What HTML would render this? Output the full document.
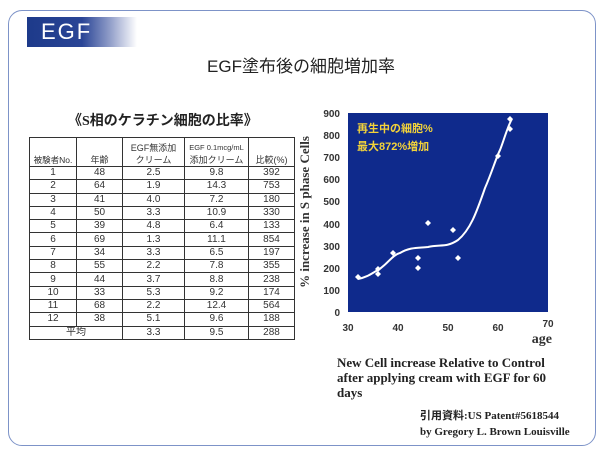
<!DOCTYPE html>
<html><head><meta charset="utf-8"><style>
body{margin:0;width:602px;height:455px;background:#fff;position:relative;overflow:hidden;font-family:"Liberation Sans","Noto Sans CJK JP",sans-serif}
.frame{position:absolute;left:8px;top:10px;width:586px;height:434px;border:1px solid #7d93c8;border-radius:14px}
.banner{position:absolute;left:27px;top:17px;width:110px;height:30px;background:linear-gradient(90deg,#1d3a8a 0%,#2a4596 50%,#8f9cc8 75%,#fff 100%)}
.banner span{position:absolute;left:14px;top:2px;color:#fff;font-size:22px;letter-spacing:2px}
.title{position:absolute;left:0;width:602px;top:52px;text-align:center;font-size:17px;color:#222}
.sub{position:absolute;left:68px;top:110px;font-size:14px;font-weight:bold;color:#222;font-family:"Liberation Serif","Noto Sans CJK JP",serif}
table{position:absolute;left:29px;top:137px;border-collapse:collapse;font-size:10px;color:#333;table-layout:fixed;width:265px}
td{border:1px solid #333;text-align:center;height:12.3px;padding:0;line-height:12px;white-space:nowrap;overflow:hidden}
tr.h td{height:28px;vertical-align:bottom;font-size:9px;line-height:12px}
.cap{position:absolute;left:337px;top:355px;font:bold 13px "Liberation Serif",serif;line-height:15px;color:#222}
.ref{position:absolute;left:420px;top:408px;font:bold 11px "Liberation Serif","Noto Sans CJK JP",serif;line-height:16px;color:#222}
</style></head><body>
<div class="frame"></div>
<div class="banner"><span>EGF</span></div>
<div class="title">EGF塗布後の細胞増加率</div>
<div class="sub">《S相のケラチン細胞の比率》</div>
<table>
<colgroup><col style="width:47px"><col style="width:46px"><col style="width:62px"><col style="width:64px"><col style="width:46px"></colgroup>
<tr class="h"><td style="font-size:8.5px">被験者No.</td><td>年齢</td><td>EGF無添加<br>クリーム</td><td><span style="font-size:7.5px">EGF 0.1mcg/mL</span><br>添加クリーム</td><td>比較(%)</td></tr>
<tr><td>1</td><td>48</td><td>2.5</td><td>9.8</td><td>392</td></tr>
<tr><td>2</td><td>64</td><td>1.9</td><td>14.3</td><td>753</td></tr>
<tr><td>3</td><td>41</td><td>4.0</td><td>7.2</td><td>180</td></tr>
<tr><td>4</td><td>50</td><td>3.3</td><td>10.9</td><td>330</td></tr>
<tr><td>5</td><td>39</td><td>4.8</td><td>6.4</td><td>133</td></tr>
<tr><td>6</td><td>69</td><td>1.3</td><td>11.1</td><td>854</td></tr>
<tr><td>7</td><td>34</td><td>3.3</td><td>6.5</td><td>197</td></tr>
<tr><td>8</td><td>55</td><td>2.2</td><td>7.8</td><td>355</td></tr>
<tr><td>9</td><td>44</td><td>3.7</td><td>8.8</td><td>238</td></tr>
<tr><td>10</td><td>33</td><td>5.3</td><td>9.2</td><td>174</td></tr>
<tr><td>11</td><td>68</td><td>2.2</td><td>12.4</td><td>564</td></tr>
<tr><td>12</td><td>38</td><td>5.1</td><td>9.6</td><td>188</td></tr>
<tr><td colspan="2">平均</td><td>3.3</td><td>9.5</td><td>288</td></tr>
</table>
<svg style="position:absolute;left:0;top:0" width="602" height="455">
<rect x="348" y="113" width="200" height="199" fill="#0f2a8c"/>
<g font-family="Liberation Sans,sans-serif" font-weight="bold" font-size="10" fill="#333" text-anchor="end">
<text x="340" y="316">0</text><text x="340" y="294">100</text><text x="340" y="272">200</text><text x="340" y="250">300</text><text x="340" y="228">400</text><text x="340" y="205">500</text><text x="340" y="183">600</text><text x="340" y="161">700</text><text x="340" y="139">800</text><text x="340" y="117">900</text>
</g>
<g font-family="Liberation Sans,sans-serif" font-weight="bold" font-size="10" fill="#333" text-anchor="middle">
<text x="348" y="331">30</text><text x="398" y="331">40</text><text x="448" y="331">50</text><text x="498" y="331">60</text><text x="548" y="327">70</text>
</g>
<text x="552" y="343" font-family="Liberation Serif,serif" font-weight="bold" font-size="14" fill="#333" text-anchor="end">age</text>
<text transform="translate(309,212) rotate(-90)" font-family="Liberation Serif,serif" font-weight="bold" font-size="13" fill="#333" text-anchor="middle">% increase in S phase Cells</text>
<text x="357" y="132" font-family="Liberation Sans,Noto Sans CJK JP,sans-serif" font-weight="bold" font-size="11" fill="#f2d23a">再生中の細胞%</text>
<text x="357" y="150" font-family="Liberation Sans,Noto Sans CJK JP,sans-serif" font-weight="bold" font-size="11" fill="#f2d23a">最大872%増加</text>
<path d="M358,279 C368,277 372,273 378,270 C388,264 392,255 400,253 C410,247 418,248 428,247 C440,244 446,248 458,240 C470,230 476,214 485,188 C492,172 496,158 500,150 C503,143 508,125 512,119" fill="none" stroke="#fff" stroke-width="2"/>
<g fill="#fff">
<path d="M358,274l3,3-3,3-3-3z"/><path d="M378,266l3,3-3,3-3-3z"/><path d="M378,271l3,3-3,3-3-3z"/><path d="M393,250l3,3-3,3-3-3z"/><path d="M418,255l3,3-3,3-3-3z"/><path d="M418,265l3,3-3,3-3-3z"/><path d="M428,220l3,3-3,3-3-3z"/><path d="M453,227l3,3-3,3-3-3z"/><path d="M458,255l3,3-3,3-3-3z"/><path d="M498,153l3,3-3,3-3-3z"/><path d="M510,116l3,3-3,3-3-3z"/><path d="M510,126l3,3-3,3-3-3z"/>
</g>
</svg>
<div class="cap">New Cell increase Relative to Control<br>after applying cream with EGF for 60<br>days</div>
<div class="ref">引用資料:US Patent#5618544<br>by Gregory L. Brown Louisville</div>
</body></html>
